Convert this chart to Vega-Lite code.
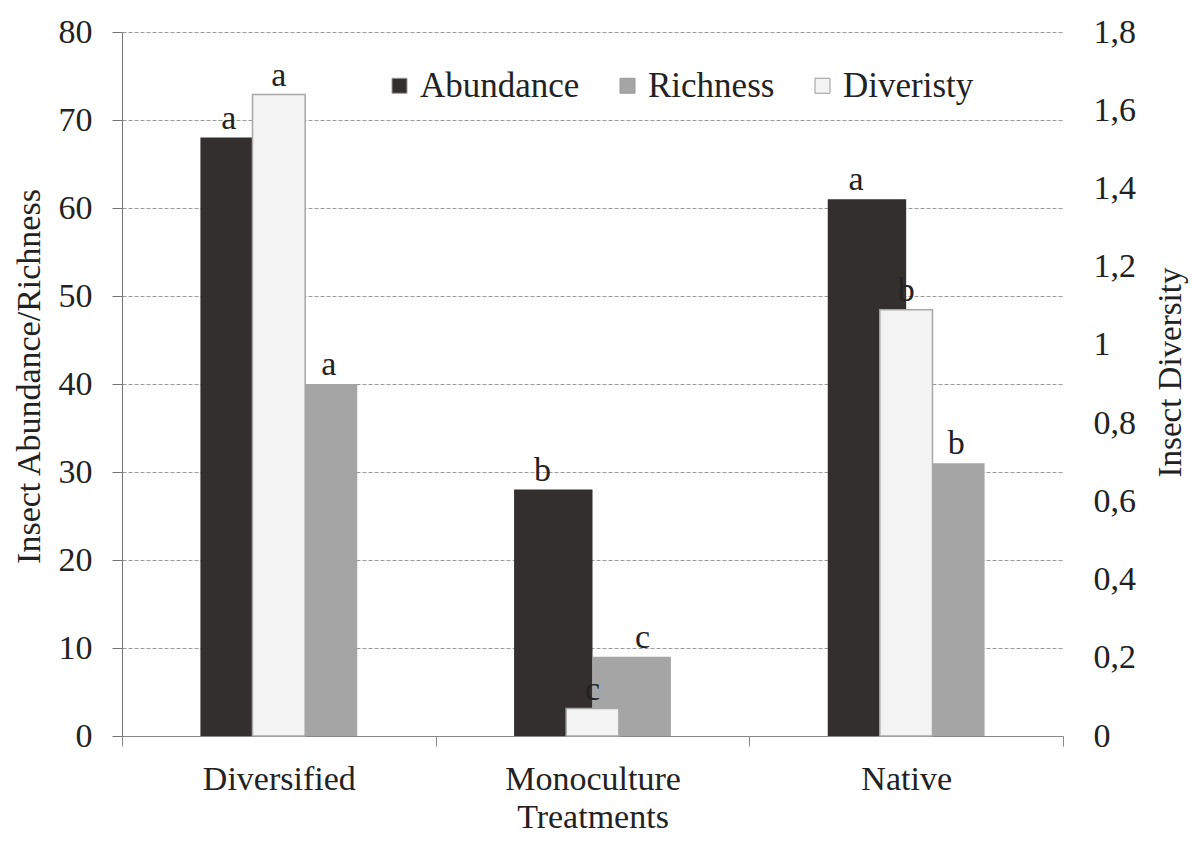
{
  "$schema": "https://vega.github.io/schema/vega-lite/v6.json",
  "width": 941,
  "height": 704,
  "autosize": {"type": "none"},
  "padding": {"left": 122, "top": 32, "right": 133, "bottom": 106},
  "background": "white",
  "config": {
    "font": "Liberation Serif, serif",
    "view": {"stroke": null},
    "axis": {
      "labelFont": "Liberation Serif, serif",
      "titleFont": "Liberation Serif, serif",
      "labelFontSize": 34,
      "titleFontSize": 34,
      "labelColor": "#222222",
      "titleColor": "#222222",
      "titleFontWeight": "normal"
    },
    "legend": {
      "orient": "none",
      "legendX": 260,
      "legendY": 36,
      "direction": "horizontal",
      "padding": 0,
      "labelFont": "Liberation Serif, serif",
      "labelFontSize": 35,
      "labelColor": "#222222",
      "symbolType": "square",
      "symbolSize": 225,
      "labelOffset": 3,
      "columnPadding": 30,
      "symbolStrokeColor": "#999999",
      "symbolStrokeWidth": 1
    }
  },
  "data": {
    "values": [
      {"treatment": "Diversified", "series": "Abundance", "value": 68, "letter": "a"},
      {"treatment": "Diversified", "series": "Diveristy", "value": 1.64, "letter": "a"},
      {"treatment": "Diversified", "series": "Richness", "value": 40, "letter": "a"},
      {"treatment": "Monoculture", "series": "Abundance", "value": 28, "letter": "b"},
      {"treatment": "Monoculture", "series": "Diveristy", "value": 0.07, "letter": "c"},
      {"treatment": "Monoculture", "series": "Richness", "value": 9, "letter": "c"},
      {"treatment": "Native", "series": "Abundance", "value": 61, "letter": "a"},
      {"treatment": "Native", "series": "Diveristy", "value": 1.09, "letter": "b"},
      {"treatment": "Native", "series": "Richness", "value": 31, "letter": "b"}
    ]
  },
  "encoding": {
    "x": {
      "field": "treatment",
      "type": "nominal",
      "sort": ["Diversified", "Monoculture", "Native"],
      "scale": {"paddingInner": 0, "paddingOuter": 0},
      "axis": {
        "title": "Treatments",
        "labelFont": "Liberation Serif, serif",
        "titleFont": "Liberation Serif, serif",
        "labelAngle": 0,
        "tickBand": "extent",
        "domainColor": "#888888",
        "tickColor": "#888888",
        "tickSize": 10,
        "labelPadding": 16,
        "titlePadding": 4,
        "grid": false
      }
    }
  },
  "layer": [
    {
      "layer": [
        {
          "transform": [{"filter": "datum.series !== 'Diveristy'"}],
          "mark": {"type": "bar"},
          "encoding": {
            "xOffset": {
              "field": "series",
              "type": "nominal",
              "sort": ["Abundance", "Richness"],
              "scale": {"paddingInner": 0, "paddingOuter": 1.09}
            },
            "y": {
              "field": "value",
              "type": "quantitative",
              "scale": {"domain": [0, 80], "nice": false},
              "axis": {
                "orient": "left",
                "title": "Insect Abundance/Richness",
                "labelFont": "Liberation Serif, serif",
                "titleFont": "Liberation Serif, serif",
                "values": [0, 10, 20, 30, 40, 50, 60, 70, 80],
                "grid": true,
                "gridDash": [4, 2],
                "gridColor": "#9a9a9a",
                "gridWidth": 1,
                "domainColor": "#777777",
                "tickColor": "#777777",
                "tickSize": 10,
                "labelPadding": 20,
                "titleAngle": 270,
                "titleX": -93,
                "titleY": 344,
                "titleAlign": "center",
                "titleBaseline": "middle"
              }
            },
            "fill": {
              "field": "series",
              "type": "nominal",
              "title": null,
              "scale": {
                "domain": ["Abundance", "Richness", "Diveristy"],
                "range": ["#332f2f", "#a5a5a5", "#f3f3f3"]
              }
            }
          }
        },
        {
          "transform": [{"filter": "datum.series === 'Abundance'"}],
          "mark": {"type": "text", "dx": -50, "dy": -9, "baseline": "alphabetic", "fontSize": 34, "font": "Liberation Serif, serif", "color": "#222222"},
          "encoding": {
            "y": {"field": "value", "type": "quantitative"},
            "text": {"field": "letter"}
          }
        },
        {
          "transform": [{"filter": "datum.series === 'Richness'"}],
          "mark": {"type": "text", "dx": 50, "dy": -9, "baseline": "alphabetic", "fontSize": 34, "font": "Liberation Serif, serif", "color": "#222222"},
          "encoding": {
            "y": {"field": "value", "type": "quantitative"},
            "text": {"field": "letter"}
          }
        }
      ]
    },
    {
      "layer": [
        {
          "transform": [{"filter": "datum.series === 'Diveristy'"}],
          "mark": {"type": "bar", "width": {"band": 0.168}, "stroke": "#a8a8a8", "strokeWidth": 1.5},
          "encoding": {
            "y": {
              "field": "value",
              "type": "quantitative",
              "scale": {"domain": [0, 1.8], "nice": false},
              "axis": {
                "orient": "right",
                "title": "Insect Diversity",
                "labelFont": "Liberation Serif, serif",
                "titleFont": "Liberation Serif, serif",
                "values": [0, 0.2, 0.4, 0.6, 0.8, 1, 1.2, 1.4, 1.6, 1.8],
                "labelExpr": "replace(format(datum.value, '~g'), '.', ',')",
                "grid": false,
                "domain": false,
                "ticks": false,
                "labelPadding": 30,
                "titleAngle": 270,
                "titleX": 107,
                "titleY": 340,
                "titleAlign": "center",
                "titleBaseline": "middle",
                "titleFontSize": 33
              }
            },
            "fill": {
              "field": "series",
              "type": "nominal",
              "title": null,
              "scale": {
                "domain": ["Abundance", "Richness", "Diveristy"],
                "range": ["#332f2f", "#a5a5a5", "#f3f3f3"]
              }
            }
          }
        },
        {
          "transform": [{"filter": "datum.series === 'Diveristy'"}],
          "mark": {"type": "text", "dy": -9, "baseline": "alphabetic", "fontSize": 34, "font": "Liberation Serif, serif", "color": "#222222"},
          "encoding": {
            "y": {"field": "value", "type": "quantitative"},
            "text": {"field": "letter"}
          }
        }
      ]
    }
  ],
  "resolve": {"scale": {"y": "independent"}}
}
